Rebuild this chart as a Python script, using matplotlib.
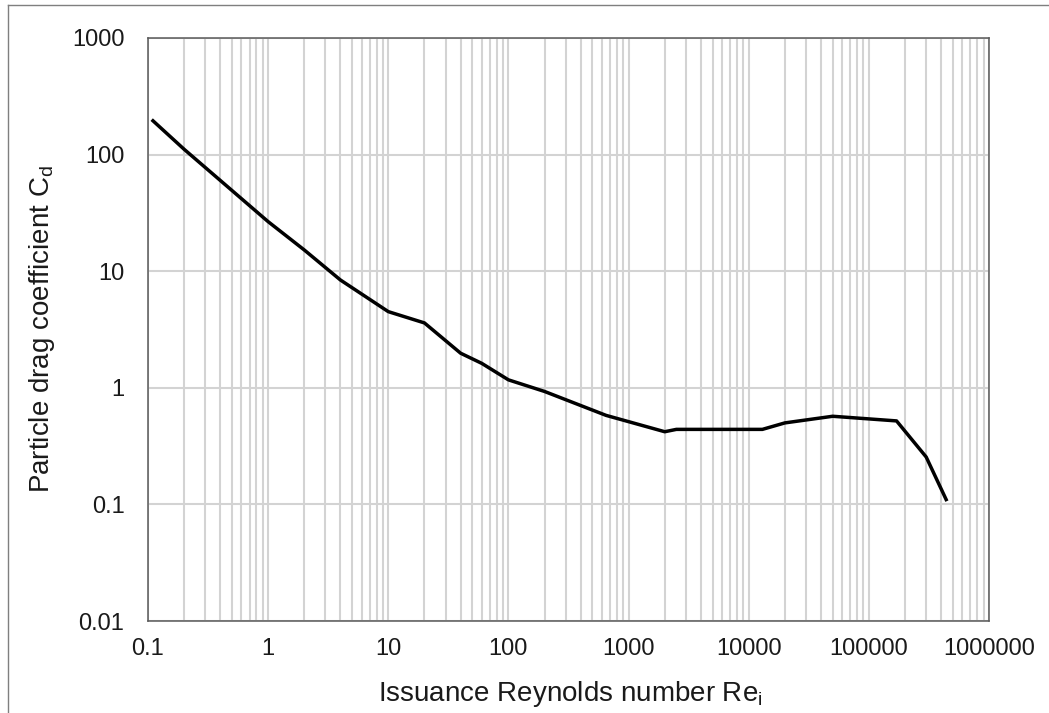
import matplotlib
matplotlib.use("Agg")
import matplotlib.pyplot as plt
from matplotlib.ticker import LogLocator, FuncFormatter, NullFormatter
from matplotlib.lines import Line2D

plt.rcParams['font.family'] = ['Liberation Sans', 'DejaVu Sans']

# Data
reynolds = [0.11, 0.2, 1, 2, 4, 10, 20, 40, 60, 100, 200, 650, 2000, 2500,
            13000, 20000, 50000, 170000, 300000, 440000]
drag_coeff = [195, 111, 26.6, 15.2, 8.4, 4.5, 3.6, 1.98, 1.62, 1.17, 0.93, 0.58,
              0.42, 0.44, 0.44, 0.50, 0.57, 0.52, 0.255, 0.11]

x_limits = (0.1, 1e6)
y_limits = (0.01, 1000)
x_label = r"Issuance Reynolds number $\mathregular{Re_i}$"
y_label = r"Particle drag coefficient $\mathregular{C_d}$"

W, H = 1049, 713
fig = plt.figure(figsize=(W / 100, H / 100), dpi=100)
ax = fig.add_axes([148 / W, 1 - 621 / H, (989 - 148) / W, (621 - 38) / H])

ax.plot(reynolds, drag_coeff, color='black', lw=2.5, solid_joinstyle='round', zorder=3)

ax.set_xscale('log')
ax.set_yscale('log')
ax.set_xlim(*x_limits)
ax.set_ylim(*y_limits)

fmt = FuncFormatter(lambda v, p: f"{v:.10g}")
ax.xaxis.set_major_locator(LogLocator(base=10, numticks=20))
ax.xaxis.set_minor_locator(LogLocator(base=10, subs=range(2, 10), numticks=100))
ax.xaxis.set_major_formatter(fmt)
ax.xaxis.set_minor_formatter(NullFormatter())
ax.yaxis.set_major_locator(LogLocator(base=10, numticks=20))
ax.yaxis.set_minor_locator(LogLocator(base=10, subs=[], numticks=20))
ax.yaxis.set_major_formatter(fmt)

grid_kw = dict(color='#d3d3d3', lw=1.5)
ax.grid(True, which='major', axis='both', **grid_kw)
ax.grid(True, which='minor', axis='x', **grid_kw)
ax.set_axisbelow(True)

ax.tick_params(which='both', length=0)
ax.tick_params(axis='x', pad=12, labelsize=17, colors='black')
ax.tick_params(axis='y', pad=17, labelsize=17, colors='black')
for tl in ax.get_xticklabels() + ax.get_yticklabels():
    tl.set_color('#1a1a1a')

for s in ax.spines.values():
    s.set_color('#595959')
    s.set_linewidth(1.1)

fig.text(570 / W, 1 - 701 / H, x_label, ha='center', va='baseline', fontsize=20, color='#1a1a1a')
fig.text(42 / W, 1 - 329 / H, y_label, ha='center', va='center', rotation=90,
         fontsize=20, color='#1a1a1a')

# partial outer border (top and left)
fig.add_artist(Line2D([8 / W, 8 / W], [0, 1 - 5 / H], transform=fig.transFigure,
                      color='#7f7f7f', lw=1.0))
fig.add_artist(Line2D([8 / W, 1], [1 - 5 / H, 1 - 5 / H], transform=fig.transFigure,
                      color='#7f7f7f', lw=1.0))

fig.savefig('out.png', dpi=100)
